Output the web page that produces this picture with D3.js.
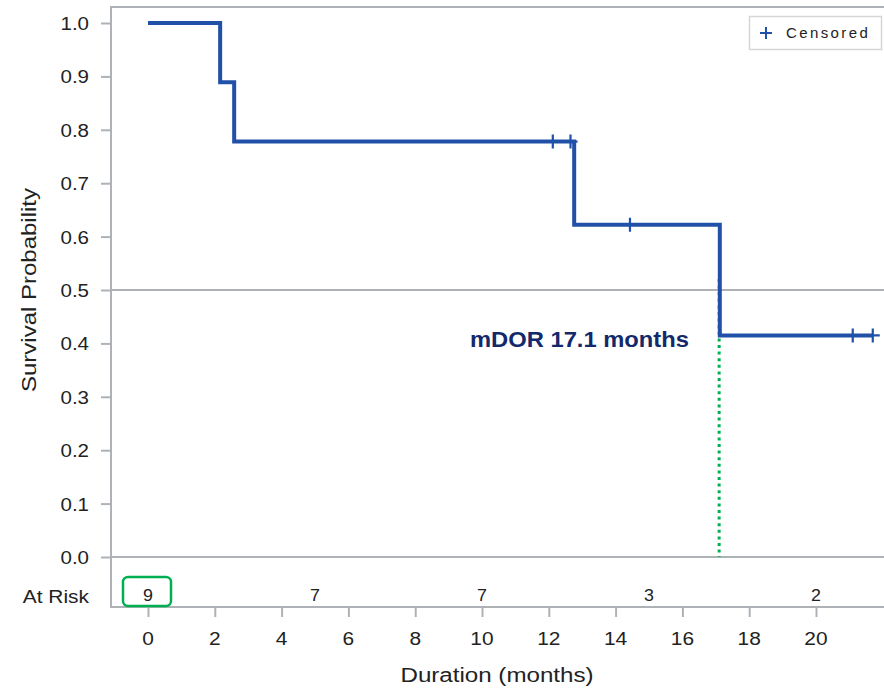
<!DOCTYPE html>
<html>
<head>
<meta charset="utf-8">
<script src="https://cdn.jsdelivr.net/npm/d3@7"></script>
<style>
  html, body { margin: 0; padding: 0; background: #fff; }
  svg { display: block; }
  text { font-family: "Liberation Sans", Arial, sans-serif; fill: #222; }
</style>
</head>
<body>
<svg id="chart" width="884" height="688"></svg>
<script>
// ---- data ----
const stepTimes = [0, 2.16, 2.58, 12.76, 17.12, 21.7];
const stepSurvival = [1.0, 0.889, 0.778, 0.622, 0.415, 0.415];
const censorTimes = [12.12, 12.65, 14.43, 21.1, 21.7];
const censorSurvival = [0.778, 0.778, 0.622, 0.415, 0.415];
const atRiskTimes = [0, 5, 10, 15, 20];
const atRiskCounts = [9, 7, 7, 3, 2];
const xTickValues = [0, 2, 4, 6, 8, 10, 12, 14, 16, 18, 20];
const yTickValues = [0.0, 0.1, 0.2, 0.3, 0.4, 0.5, 0.6, 0.7, 0.8, 0.9, 1.0];
const medianTime = 17.1;
const medianLabel = "mDOR 17.1 months";
const referenceSurvival = 0.5;

// ---- layout ----
const W = 884, H = 688;
const frameLeft = 111, frameTop = 7, plotBottom = 557, axisBottom = 607;
const svg = d3.select("#chart");
const x = d3.scaleLinear().domain([0, 20]).range([148, 816]);
const y = d3.scaleLinear().domain([0, 1]).range([plotBottom, 23]);
const gray = "#aeb2b6";
const blue = "#2150a8";
const green = "#00b050";

function stext(px, py, str, size, opts = {}) {
  const sx = opts.sx || 1.1;
  const t = svg.append("text")
    .attr("transform", `translate(${px},${py}) scale(${sx},1)`)
    .attr("font-size", size)
    .attr("text-anchor", opts.anchor || "middle")
    .text(str);
  if (opts.weight) t.attr("font-weight", opts.weight);
  if (opts.fill) t.style("fill", opts.fill);
  return t;
}

// frame lines
svg.append("line").attr("x1", frameLeft).attr("x2", W).attr("y1", frameTop).attr("y2", frameTop)
  .attr("stroke", gray).attr("stroke-width", 2);
svg.append("line").attr("x1", frameLeft).attr("x2", frameLeft).attr("y1", frameTop - 1).attr("y2", axisBottom + 1)
  .attr("stroke", gray).attr("stroke-width", 2);
svg.append("line").attr("x1", frameLeft).attr("x2", W).attr("y1", plotBottom).attr("y2", plotBottom)
  .attr("stroke", gray).attr("stroke-width", 2);

// reference line at 0.5
svg.append("line").attr("x1", frameLeft).attr("x2", W)
  .attr("y1", y(referenceSurvival)).attr("y2", y(referenceSurvival))
  .attr("stroke", gray).attr("stroke-width", 2);

// y axis
const yAxis = d3.axisLeft(y).tickValues(yTickValues).tickSize(10).tickFormat("");
const gy = svg.append("g").attr("transform", `translate(${frameLeft},0)`).call(yAxis);
gy.select(".domain").remove();
gy.selectAll(".tick line").attr("stroke", gray).attr("stroke-width", 2);
yTickValues.forEach(v => stext(89, y(v) + 7, d3.format(".1f")(v), 19, { anchor: "end", sx: 1.08 }));

// x axis (bottom)
const xAxis = d3.axisBottom(x).tickValues(xTickValues).tickSize(10).tickFormat("");
const gx = svg.append("g").attr("transform", `translate(0,${axisBottom})`).call(xAxis);
gx.select(".domain").remove();
svg.append("line").attr("x1", frameLeft).attr("x2", W).attr("y1", axisBottom).attr("y2", axisBottom)
  .attr("stroke", gray).attr("stroke-width", 2);
gx.selectAll(".tick line").attr("stroke", gray).attr("stroke-width", 2);
xTickValues.forEach(v => stext(x(v), 645, String(v), 19, { sx: 1.1 }));

// axis titles
stext(497, 682, "Duration (months)", 21, { sx: 1.15 });
svg.append("text")
  .attr("transform", `translate(36,290) rotate(-90) scale(1.2,1)`)
  .attr("font-size", 20).attr("text-anchor", "middle")
  .text("Survival Probability");

// at risk row
stext(89, 603, "At Risk", 19, { anchor: "end", sx: 1.1 });
atRiskTimes.forEach((t, i) => stext(x(t), 601, String(atRiskCounts[i]), 17, { sx: 1.05 }));
svg.append("rect").attr("x", 123).attr("y", 577).attr("width", 48).attr("height", 29)
  .attr("rx", 5).attr("fill", "none").attr("stroke", green).attr("stroke-width", 2.5);

// median dotted line
svg.append("line").attr("x1", x(medianTime)).attr("x2", x(medianTime))
  .attr("y1", 279).attr("y2", plotBottom)
  .attr("stroke", green).attr("stroke-width", 3).attr("stroke-dasharray", "3,3.6");

// survival step curve
const stepData = stepTimes.map((t, i) => [t, stepSurvival[i]]);
const line = d3.line().x(d => x(d[0])).y(d => y(d[1])).curve(d3.curveStepAfter);
svg.append("path").datum(stepData).attr("d", line)
  .attr("fill", "none").attr("stroke", blue).attr("stroke-width", 4).attr("stroke-linejoin", "miter");

// censor marks
const cs = 7;
censorTimes.forEach((t, i) => {
  const cx = x(t), cy = y(censorSurvival[i]);
  svg.append("path").attr("d", `M${cx - cs},${cy}H${cx + cs}M${cx},${cy - cs}V${cy + cs}`)
    .attr("stroke", blue).attr("stroke-width", 2.2).attr("fill", "none");
});

// median label
stext(470, 347, medianLabel, 22, { anchor: "start", sx: 1.08, weight: "bold", fill: "#13296b" });

// legend
svg.append("rect").attr("x", 749.5).attr("y", 16.5).attr("width", 132).attr("height", 33)
  .attr("fill", "#fff").attr("stroke", "#d4d6d8").attr("stroke-width", 1.5);
svg.append("path").attr("d", `M${760},${33}H${772}M${766},${27}V${39}`)
  .attr("stroke", blue).attr("stroke-width", 2).attr("fill", "none");
svg.append("text").attr("x", 786).attr("y", 38).attr("font-size", 15)
  .attr("letter-spacing", "2.4px").text("Censored");
</script>
</body>
</html>
